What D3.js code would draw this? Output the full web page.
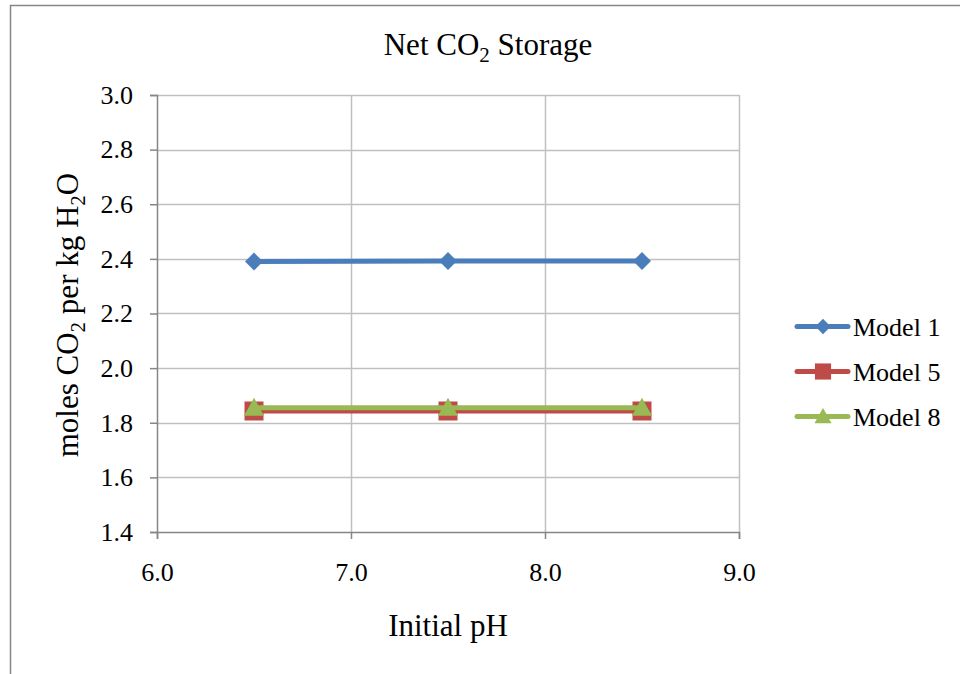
<!DOCTYPE html>
<html>
<head>
<meta charset="utf-8">
<script src="https://cdn.jsdelivr.net/npm/d3@7"></script>
<style>
  body { margin: 0; background: #fff; }
  svg text { font-family: 'Liberation Serif', 'Times New Roman', serif; }
</style>
</head>
<body>
<svg></svg>
<script>
const width = 960;
const height = 674;

// data
const phValues = [6.5, 7.5, 8.5];
const model1 = [2.39, 2.392, 2.392];
const model5 = [1.843, 1.843, 1.843];
const model8 = [1.855, 1.855, 1.855];
const xTicks = [6.0, 7.0, 8.0, 9.0];
const yTicks = [1.4, 1.6, 1.8, 2.0, 2.2, 2.4, 2.6, 2.8, 3.0];

const seriesList = [
  { name: 'Model 1', values: model1, color: '#4A7EBB', symbol: 'diamond' },
  { name: 'Model 5', values: model5, color: '#BE4B48', symbol: 'square' },
  { name: 'Model 8', values: model8, color: '#98B954', symbol: 'triangle' }
];

const svg = d3.select('svg')
  .attr('width', width)
  .attr('height', height);

// chart border (only top and left visible)
svg.append('path')
  .attr('d', `M10.5,${height} V5.5 H${width}`)
  .attr('fill', 'none')
  .attr('stroke', '#868686')
  .attr('stroke-width', 1.5);

const xScale = d3.scaleLinear().domain([6, 9]).range([157, 739]);
const yScale = d3.scaleLinear().domain([1.4, 3.0]).range([532, 95]);

// gridlines
svg.append('g')
  .selectAll('line')
  .data(yTicks.slice(1))
  .enter().append('line')
    .attr('x1', xScale(6)).attr('x2', xScale(9))
    .attr('y1', d => Math.round(yScale(d)) + 0.5)
    .attr('y2', d => Math.round(yScale(d)) + 0.5)
    .attr('stroke', '#c0c0c0').attr('stroke-width', 1.5);

svg.append('g')
  .selectAll('line')
  .data(xTicks.slice(1))
  .enter().append('line')
    .attr('y1', yScale(3)).attr('y2', yScale(1.4))
    .attr('x1', d => Math.round(xScale(d)) + 0.5)
    .attr('x2', d => Math.round(xScale(d)) + 0.5)
    .attr('stroke', '#c0c0c0').attr('stroke-width', 1.5);

const xAxis = d3.axisBottom(xScale)
  .tickValues(xTicks)
  .tickFormat(d3.format('.1f'))
  .tickSize(7)
  .tickPadding(24);
const yAxis = d3.axisLeft(yScale)
  .tickValues(yTicks)
  .tickFormat(d3.format('.1f'))
  .tickSize(7)
  .tickPadding(17);

const gx = svg.append('g')
  .attr('transform', `translate(0, ${yScale(1.4)})`)
  .call(xAxis);
const gy = svg.append('g')
  .attr('transform', `translate(${xScale(6)}, 0)`)
  .call(yAxis);

[gx, gy].forEach(g => {
  g.attr('font-family', null).attr('font-size', 26);
  g.selectAll('path.domain, line').attr('stroke', '#868686').attr('stroke-width', 1.5);
  g.selectAll('text').attr('fill', '#000');
});

// diamond drawn as a rotated square, like the spreadsheet marker
const symbols = {
  diamond: 'M0,-9L9,0L0,9L-9,0Z',
  square: d3.symbol().type(d3.symbolSquare).size(361)(),
  triangle: 'M0,-10L10,8L-10,8Z'
};

const line = d3.line()
  .x((d, i) => xScale(phValues[i]))
  .y(d => yScale(d));

seriesList.forEach(s => {
  svg.append('path')
    .datum(s.values)
    .attr('d', line)
    .attr('fill', 'none')
    .attr('stroke', s.color)
    .attr('stroke-width', 5)
    .attr('stroke-linecap', 'round');

  svg.append('g')
    .selectAll('path')
    .data(s.values)
    .enter().append('path')
      .attr('d', symbols[s.symbol])
      .attr('transform', (d, i) => `translate(${xScale(phValues[i])}, ${yScale(d)})`)
      .attr('fill', s.color);
});

// legend
const legend = svg.append('g');
seriesList.forEach((s, i) => {
  const y = 326.5 + i * 45;
  legend.append('line')
    .attr('x1', 797).attr('x2', 848)
    .attr('y1', y).attr('y2', y)
    .attr('stroke', s.color)
    .attr('stroke-width', 5)
    .attr('stroke-linecap', 'round');
  legend.append('path')
    .attr('d', symbols[s.symbol])
    .attr('transform', `translate(823, ${y}) scale(0.85)`)
    .attr('fill', s.color);
  legend.append('text')
    .attr('x', 853)
    .attr('y', y)
    .attr('dy', '0.35em')
    .style('font-size', '26px')
    .text(s.name);
});

// title
const title = svg.append('text')
  .attr('x', 488)
  .attr('y', 55)
  .style('text-anchor', 'middle')
  .style('font-size', '31px');
title.append('tspan').text('Net CO');
title.append('tspan').attr('dy', 7).style('font-size', '21px').text('2');
title.append('tspan').attr('dy', -7).text(' Storage');

// y axis label
const yLabel = svg.append('text')
  .attr('transform', 'rotate(-90)')
  .attr('x', -315)
  .attr('y', 78)
  .style('text-anchor', 'middle')
  .style('font-size', '31px');
yLabel.append('tspan').text('moles CO');
yLabel.append('tspan').attr('dy', 7).style('font-size', '21px').text('2');
yLabel.append('tspan').attr('dy', -7).text(' per kg H');
yLabel.append('tspan').attr('dy', 7).style('font-size', '21px').text('2');
yLabel.append('tspan').attr('dy', -7).text('O');

// x axis label
svg.append('text')
  .attr('x', 448)
  .attr('y', 636)
  .style('text-anchor', 'middle')
  .style('font-size', '31px')
  .text('Initial pH');
</script>
</body>
</html>
